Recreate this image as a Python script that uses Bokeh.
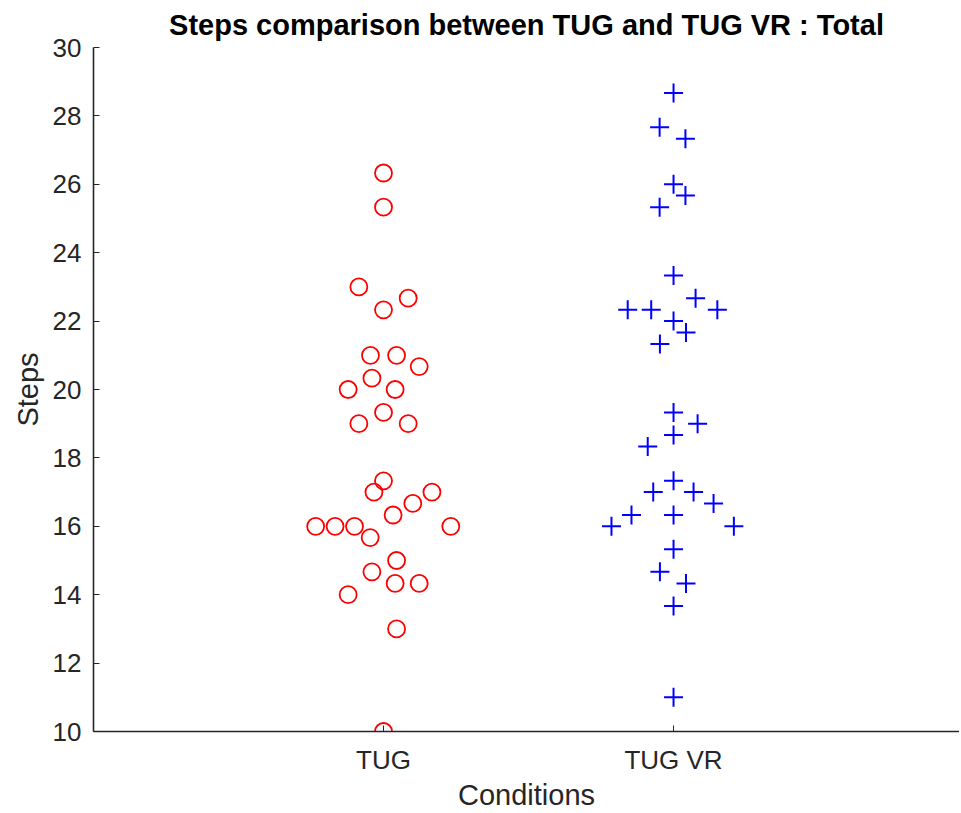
from bokeh.plotting import figure
from bokeh.models import Range1d, FixedTicker, ColumnDataSource
from bokeh.embed import file_html
from bokeh.resources import INLINE

# ---- data ----
categories = ["TUG", "TUG VR"]
category_pos = [1, 2]

tug_steps = [26.33, 25.33, 23.00, 22.33, 22.67, 21.00, 21.00, 20.67, 20.33, 20.00,
             20.00, 19.33, 19.00, 19.00, 17.33, 17.00, 17.00, 16.67, 16.33, 16.00,
             16.00, 16.00, 16.00, 15.67, 15.00, 14.67, 14.33, 14.33, 14.00, 13.00,
             10.00]
tug_jitter = [0.0, 0.0, -0.085, 0.0, 0.085, -0.045, 0.045, 0.123, -0.040, -0.122,
              0.040, 0.0, -0.085, 0.085, 0.0, -0.033, 0.167, 0.101, 0.033, -0.234,
              -0.167, -0.100, 0.232, -0.046, 0.045, -0.040, 0.040, 0.123, -0.122, 0.045,
              0.0]

vr_steps = [28.67, 27.67, 27.33, 26.00, 25.67, 25.33, 23.33, 22.67, 22.33, 22.33,
            22.33, 22.00, 21.67, 21.33, 19.33, 19.00, 18.67, 18.33, 17.33, 17.00,
            17.00, 16.67, 16.33, 16.33, 16.00, 16.00, 15.33, 14.67, 14.33, 13.67,
            11.00]
vr_jitter = [0.0, -0.048, 0.041, 0.0, 0.041, -0.048, 0.0, 0.076, -0.158, -0.077,
             0.151, 0.0, 0.043, -0.047, 0.0, 0.083, 0.0, -0.089, 0.0, -0.070,
             0.069, 0.138, -0.145, 0.0, -0.214, 0.208, 0.0, -0.047, 0.043, 0.0,
             0.0]

y_ticks = [10, 12, 14, 16, 18, 20, 22, 24, 26, 28, 30]
x_label = "Conditions"
y_label = "Steps"
title_text = "Steps comparison between TUG and TUG VR : Total"

tug_src = ColumnDataSource(dict(x=[category_pos[0] + j for j in tug_jitter], y=tug_steps))
vr_src = ColumnDataSource(dict(x=[category_pos[1] + j for j in vr_jitter], y=vr_steps))

FONT = "Liberation Sans"
AX = "#262626"

p = figure(width=959, height=813, output_backend="svg", toolbar_location=None,
           x_range=Range1d(0, 2.986), y_range=Range1d(10, 30),
           min_border_left=93, min_border_right=0, min_border_top=47, min_border_bottom=82,
           title=title_text)

p.title.text_font = FONT
p.title.text_font_size = "29px"
p.title.text_font_style = "bold"
p.title.text_color = "black"
p.title.align = "center"
p.title.standoff = 13

p.outline_line_color = None
p.xgrid.grid_line_color = None
p.ygrid.grid_line_color = None
p.background_fill_color = "white"
p.border_fill_color = "white"

p.scatter("x", "y", source=tug_src, marker="circle", size=17,
          fill_color=None, line_color="#FF0000", line_width=1.8)
p.scatter("x", "y", source=vr_src, marker="cross", size=19,
          line_color="#0000FF", line_width=2.0)

# x axis
xa = p.xaxis[0]
xa.ticker = FixedTicker(ticks=category_pos)
xa.major_label_overrides = {category_pos[i]: categories[i] for i in range(len(categories))}
xa.minor_tick_line_color = None
xa.major_tick_in = 6
xa.major_tick_out = 0
xa.axis_line_width = 1.6
xa.axis_line_color = AX
xa.major_tick_line_color = AX
xa.major_label_text_font = FONT
xa.major_label_text_font_size = "26px"
xa.major_label_text_color = AX
xa.major_label_standoff = 13
xa.axis_label = x_label
xa.axis_label_text_font = FONT
xa.axis_label_text_font_size = "29px"
xa.axis_label_text_font_style = "normal"
xa.axis_label_text_color = AX
xa.axis_label_standoff = 1

# y axis
ya = p.yaxis[0]
ya.ticker = FixedTicker(ticks=y_ticks)
ya.minor_tick_line_color = None
ya.major_tick_in = 6
ya.major_tick_out = 0
ya.axis_line_width = 1.6
ya.axis_line_color = AX
ya.major_tick_line_color = AX
ya.major_label_text_font = FONT
ya.major_label_text_font_size = "26px"
ya.major_label_text_color = AX
ya.major_label_standoff = 12
ya.axis_label = y_label
ya.axis_label_text_font = FONT
ya.axis_label_text_font_size = "29px"
ya.axis_label_text_font_style = "normal"
ya.axis_label_text_color = AX
ya.axis_label_standoff = 6

open("out.html", "w").write(file_html(p, INLINE))
